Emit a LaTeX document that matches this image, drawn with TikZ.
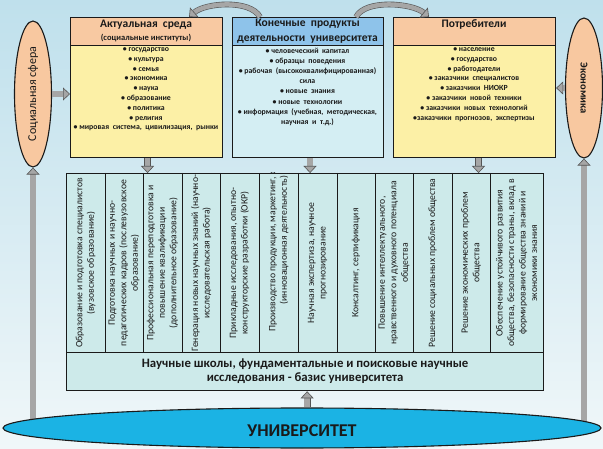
\documentclass[tikz,border=0pt]{standalone}
\usepackage{fontspec}
\setmainfont{Carlito}
\usetikzlibrary{shapes.geometric,arrows.meta,calc}

\definecolor{bgtop}{HTML}{BFE0EC}
\definecolor{bgbot}{HTML}{F0F7F9}
\definecolor{hdrorange}{HTML}{F8C9A2}
\definecolor{bodyyellow}{HTML}{FCF0A6}
\definecolor{hdrblue}{HTML}{8EC3EA}
\definecolor{bodycyan}{HTML}{D4EEF3}
\definecolor{colcyan}{HTML}{CDEAEA}
\definecolor{ellorange}{HTML}{F8C8A0}
\definecolor{univblue}{HTML}{1BB3E4}
\definecolor{arrowfill}{HTML}{A6A6A6}
\definecolor{arrowedge}{HTML}{555555}
\definecolor{ink}{HTML}{1A1A1A}

\begin{document}
\begin{tikzpicture}[x=1pt,y=-1pt,
  frame/.style={draw=ink, line width=1.1pt, inner sep=0pt, anchor=north west},
  hdrtext/.style={font=\fontsize{11.5}{13}\selectfont\bfseries, text=ink, align=center, inner sep=0pt, anchor=north},
  listtext/.style={font=\fontsize{7.8}{9.8}\selectfont\bfseries, text=ink, align=center, inner sep=0pt, anchor=north},
  coltext/.style={font=\fontsize{9.7}{11.5}\selectfont, text=ink, align=center, inner sep=0pt, rotate=90},
  sideell/.style={ellipse, draw=ink, line width=1.1pt, fill=ellorange, inner sep=0pt},
  blk/.style={draw=arrowedge, line width=0.6pt, double=arrowfill, double distance=5.5pt,
    -{Triangle[length=7pt, width=13pt, fill=arrowfill, color=arrowedge, line width=0.6pt]}}
]
\useasboundingbox (0,0) rectangle (603,449);
\shade[top color=bgtop, bottom color=bgbot] (0,0) rectangle (603,449);

% side spheres and the long arrows rising from the university
\node[sideell, minimum width=37pt, minimum height=146pt] (soc) at (33,94) {};
\node[text=ink, font=\fontsize{12}{14}\selectfont, rotate=90, inner sep=0pt] (soct) at (soc.center) {Социальная сфера};
\node[sideell, minimum width=37pt, minimum height=140pt] (eco) at (584,88) {};
\node[text=ink, font=\fontsize{10.5}{12}\selectfont\bfseries, rotate=-90, inner sep=0pt] (ecot) at (eco.center) {Экономика};

\coordinate (socfoot) at (33,428);
\coordinate (ecofoot) at (584,428);
\draw[blk] (socfoot) -- (soc.south);
\draw[blk] (ecofoot) -- (eco.south);

% university
\node[ellipse, draw=ink, line width=1.1pt, fill=univblue, minimum width=598pt, minimum height=40pt, inner sep=0pt] (univ) at (302,428) {};
\node[text=ink, font=\fontsize{18}{20}\selectfont\bfseries, inner sep=0pt] (univt) at (302,431) {УНИВЕРСИТЕТ};

% three upper boxes
\node[frame, fill=hdrorange, minimum width=152pt, minimum height=28pt] (envh) at (70,17) {};
\node[frame, fill=bodyyellow, minimum width=152pt, minimum height=112pt] (envb) at (70,45) {};
\node[frame, fill=hdrblue, minimum width=151pt, minimum height=28pt] (prodh) at (232,17) {};
\node[frame, fill=bodycyan, minimum width=151pt, minimum height=112pt] (prodb) at (232,45) {};
\node[frame, fill=hdrorange, minimum width=162pt, minimum height=28pt] (consh) at (393,17) {};
\node[frame, fill=bodyyellow, minimum width=162pt, minimum height=112pt] (consb) at (393,45) {};

\node[hdrtext] (envt) at (146,19.5) {Актуальная~ среда};
\node[hdrtext, font=\fontsize{8.5}{10}\selectfont\bfseries] (envs) at (146,33.5) {(социальные институты)};
\node[hdrtext, font=\fontsize{11.5}{15}\selectfont\bfseries] (prodt) at (307.5,19) {Конечные~ продукты\\деятельности~ университета};
\node[hdrtext] (const) at (474,19.5) {Потребители};

\node[listtext] (envl) at (146,47.5) {• государство\\• культура\\• семья\\• экономика\\• наука\\• образование\\• политика\\• религия\\• мировая~ система,~ цивилизация,~ рынки};
\node[listtext, font=\fontsize{7.8}{10.2}\selectfont\bfseries] (prodl) at (307.5,47.5) {• человеческий~ капитал\\• образцы~ поведения\\• рабочая~ (высококвалифицированная)\\сила\\• новые~ знания\\• новые~ технологии\\• информация~ (учебная,~ методическая,\\научная~ и~ т.д.)};
\node[listtext] (consl) at (474,47.5) {• население\\• государство\\• работодатели\\• заказчики~ специалистов\\• заказчики~ НИОКР\\• заказчики~ новой~ техники\\• заказчики~ новых~ технологий\\•заказчики~ прогнозов,~ экспертизы};

% arcs between the upper boxes
\draw[blk, double distance=4.5pt] ([xshift=28pt]prodh.north west) .. controls (250,-1) and (205,3) .. ([xshift=-34pt]envh.north east);
\draw[blk, double distance=4.5pt] ([xshift=-28pt]prodh.north east) .. controls (365,-1) and (412,3) .. ([xshift=36pt]consh.north west);

% side inputs
\draw[blk] (soc.east) -- (soc.east -| envb.west);
\draw[blk] (eco.west) -- (eco.west -| consb.east);

% activities block
\node[frame, fill=colcyan, minimum width=477pt, minimum height=179pt, line width=1.3pt] (acts) at (66,173) {};
\node[frame, fill=colcyan, minimum width=477pt, minimum height=38pt, line width=1.3pt,
      font=\fontsize{12.8}{14}\selectfont\bfseries, text=ink, align=center] (base) at (66,352)
      {Научные школы, фундаментальные и поисковые научные\\исследования - базис университета};

\foreach \xx in {105,143,182,220,259,298,337,375,413,452,490}
  \draw[ink, line width=0.9pt] (\xx,173) -- (\xx,352);

\begin{scope}
\clip (66,173) rectangle (543,352);
\node[coltext] (c1) at (85.5,263) {Образование и подготовка специалистов\\(вузовское образование)};
\node[coltext] (c2) at (124,263) {Подготовка научных и научно-\\педагогических кадров (послевузовское\\образование)};
\node[coltext] (c3) at (162.5,263) {Профессиональная переподготовка и\\повышение квалификации\\(дополнительное образование)};
\node[coltext] (c4) at (201,263) {Генерация новых научных знаний (научно-\\исследовательская работа)};
\node[coltext] (c5) at (239.5,263) {Прикладные исследования, опытно-\\конструкторские разработки (ОКР)};
\node[coltext] (c6) at (278.5,240) {Производство продукции, маркетинг, объем\\(инновационная деятельность)};
\node[coltext] (c7) at (317.5,263) {Научная экспертиза, научное\\прогнозирование};
\node[coltext] (c8) at (356,263) {Консалтинг, сертификация};
\node[coltext] (c9) at (394,263) {Повышение интеллектуального,\\нравственного и духовного потенциала\\общества};
\node[coltext] (c10) at (432.5,263) {Решение социальных проблем общества};
\node[coltext] (c11) at (471,263) {Решение экономических проблем\\общества};
\node[coltext] (c12) at (516.5,263) {Обеспечение устойчивого развития\\общества, безопасности страны, вклад в\\формирование общества знаний и\\экономики знания};
\end{scope}

% flows into the block
\draw[blk] ([xshift=1pt]envb.south) -- ([xshift=1pt]envb.south |- acts.north);
\draw[blk] ([xshift=2pt]prodb.south) -- ([xshift=2pt]prodb.south |- acts.north);
\draw[blk] ([xshift=4pt]consb.south) -- ([xshift=4pt]consb.south |- acts.north);
\draw[blk] ([xshift=2pt]base.south |- univ.north) -- ([xshift=2pt]base.south);
\end{tikzpicture}
\end{document}
